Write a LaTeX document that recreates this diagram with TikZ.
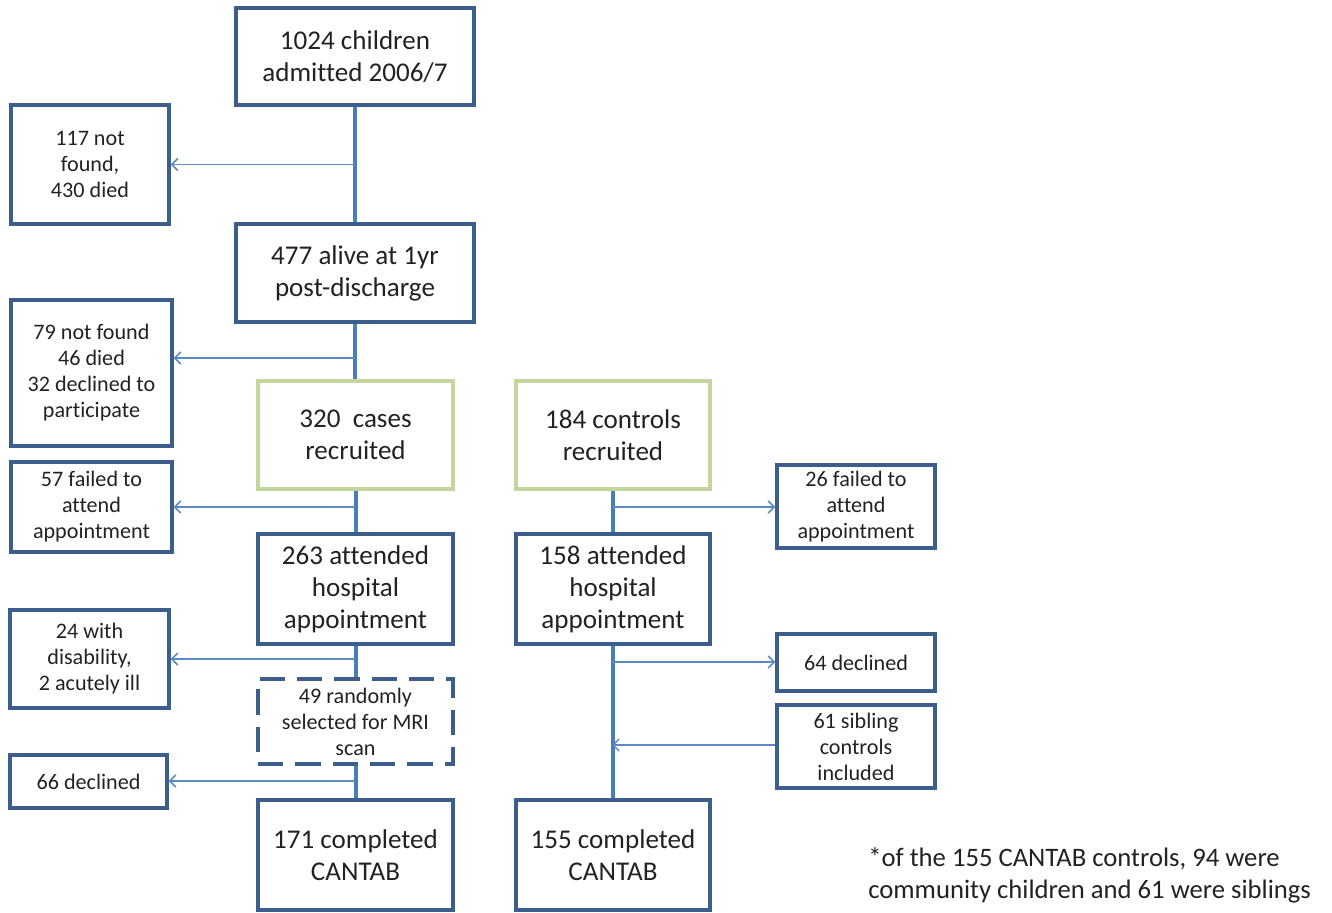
\documentclass[tikz,border=0pt]{standalone}
\usepackage{fontspec}
\setmainfont[Ligatures=CommonOff]{Carlito}
\usetikzlibrary{arrows.meta,calc}
\definecolor{boxblue}{HTML}{3B5E8C}
\definecolor{trunkblue}{HTML}{4A7EBB}
\definecolor{arrblue}{HTML}{5B8AC4}
\definecolor{boxgreen}{HTML}{C3D69B}
\definecolor{txt}{HTML}{222222}
\tikzset{
  wh/.style 2 args={minimum width=#1*0.75pt, minimum height=#2*0.75pt},
  bigbox/.style={draw=boxblue, line width=2.6pt, align=center, inner sep=2pt, text=txt,
    font=\fontsize{20.3}{24}\selectfont},
  smallbox/.style={draw=boxblue, line width=2.6pt, align=center, inner sep=2pt, text=txt,
    font=\fontsize{16.6}{19.5}\selectfont},
  greenbox/.style={bigbox, draw=boxgreen},
  dashbox/.style={smallbox, dash pattern=on 19pt off 9pt},
  trunk/.style={draw=trunkblue, line width=3pt},
  arr/.style={draw=arrblue, line width=1.1pt, -{Straight Barb[length=4.5pt,width=9pt]}}
}
\begin{document}
\begin{tikzpicture}[x=0.75pt,y=-0.75pt]
\useasboundingbox (0,0) rectangle (1332,913);
\node[bigbox, wh={238}{97}] (A) at (355,56.5) {1024 children\\admitted 2006/7};
\node[smallbox, wh={158}{119}] (B) at (90,164.5) {117 not\\found,\\430 died};
\node[bigbox, wh={238}{98}] (C) at (355,273) {477 alive at 1yr\\post-discharge};
\node[smallbox, wh={161}{146}] (D) at (91.5,373) {79 not found\\46 died\\32 declined to\\participate};
\node[greenbox, wh={195}{108}] (E) at (355.5,435) {320\ \ cases\\recruited};
\node[greenbox, wh={194}{108}] (F) at (613,435) {184 controls\\recruited};
\node[smallbox, wh={161}{90}] (G) at (91.5,507) {57 failed to\\attend\\appointment};
\node[smallbox, wh={158}{83}] (H) at (856,506.5) {26 failed to\\attend\\appointment};
\node[bigbox, wh={195}{110}] (I) at (355.5,589) {263 attended\\hospital\\appointment};
\node[bigbox, wh={194}{110}] (J) at (613,589) {158 attended\\hospital\\appointment};
\node[smallbox, wh={159}{98}] (K) at (89.5,659) {24 with\\disability,\\2 acutely ill};
\node[dashbox, wh={195}{85}] (L) at (355.5,721.5) {49 randomly\\selected for MRI\\scan};
\node[smallbox, wh={158}{57}] (M) at (856,662.5) {64 declined};
\node[smallbox, wh={158}{83}] (N) at (856,746.5) {61 sibling\\controls\\included};
\node[smallbox, wh={157}{53}] (O) at (88.5,781.5) {66 declined};
\node[bigbox, wh={195}{110}] (P) at (355.5,855) {171 completed\\CANTAB};
\node[bigbox, wh={194}{110}] (Q) at (613,855) {155 completed\\CANTAB};
\node[align=left, anchor=north west, text=txt, font=\fontsize{20}{24}\selectfont, inner sep=0pt] (note) at (868,847)
  {*of the 155 CANTAB controls, 94 were\\community children and 61 were siblings};
% trunks
\draw[trunk] (A.south) -- (C.north);
\draw[trunk] (C.south) -- (C.south |- E.north);
\draw[trunk] (E.south) -- (I.north);
\draw[trunk] (I.south) -- (L.north);
\draw[trunk] (L.south) -- (P.north);
\draw[trunk] (F.south) -- (J.north);
\draw[trunk] (J.south) -- (Q.north);
% branch points
\coordinate (b1) at ($(A.south)!0.5!(C.north)$);
\coordinate (b2) at (355,358);
\coordinate (b3) at (355,507);
\coordinate (b4) at (612,507);
\coordinate (b5) at (355,659);
\coordinate (b6) at (612,662);
\coordinate (b7) at (612,745);
\coordinate (b8) at (355,781);
\draw[arr] (b1) -- (b1 -| B.east);
\draw[arr] (b2) -- (b2 -| D.east);
\draw[arr] (b3) -- (b3 -| G.east);
\draw[arr] (b4) -- (b4 -| H.west);
\draw[arr] (b5) -- (b5 -| K.east);
\draw[arr] (b6) -- (b6 -| M.west);
\draw[arr] (b7 -| N.west) -- (b7);
\draw[arr] (b8) -- (b8 -| O.east);
\end{tikzpicture}
\end{document}
